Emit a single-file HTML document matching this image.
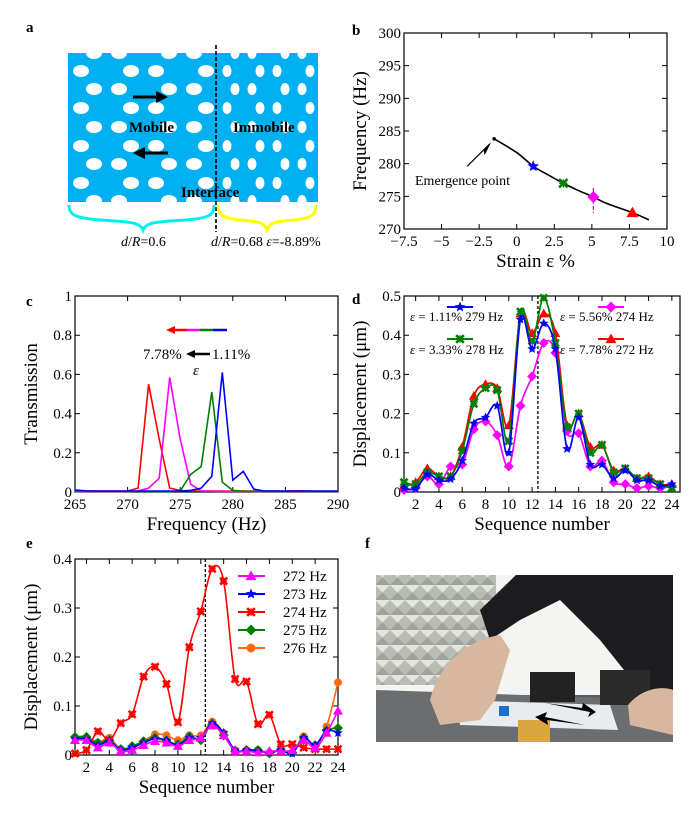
<!DOCTYPE html>
<html><head><meta charset="utf-8"><style>
body{margin:0;background:#fff;}
svg{display:block;font-family:"Liberation Serif",serif;}
</style></head><body>
<svg width="700" height="835" viewBox="0 0 700 835" id="fig">
<defs>
<pattern id="tiles" width="15" height="15" patternUnits="userSpaceOnUse"><rect width="15" height="15" fill="#b9bcb4"/><path d="M0 0L7.5 7.5L15 0Z" fill="#e4e5e0"/><path d="M0 15L7.5 7.5L15 15Z" fill="#9fa39b"/></pattern>
</defs>
<g font-family="Liberation Serif, serif" font-weight="bold" font-size="15">
<text x="26" y="32">a</text>
<text x="352" y="35">b</text>
<text x="26" y="306">c</text>
<text x="352" y="304">d</text>
<text x="26" y="548">e</text>
<text x="365" y="548">f</text>
</g>
<g id="pa"></g>
<g id="pb"></g>
<g id="pc"></g>
<g id="pd"></g>
<g id="pe"></g>
<g id="pf">
<rect x="376" y="575" width="297" height="167" fill="#f4f4f2"/>
<rect x="376" y="575" width="120" height="110" fill="url(#tiles)"/>
<path d="M516 575L673 575L673 700L640 690L600 640L560 600L520 620L490 640L480 610Z" fill="#1c1c1e"/>
<rect x="376" y="695" width="297" height="47" fill="#5a5c5e"/>
<path d="M376 690L673 700L673 742L376 742Z" fill="#6b6d70"/>
<path d="M455 700L610 705L618 730L460 725Z" fill="#e8ecee"/>
<rect x="530" y="672" width="45" height="30" fill="#222"/>
<rect x="600" y="670" width="50" height="35" fill="#2a2a2a"/>
<path d="M430 700C440 660 470 640 500 635L510 650L495 700L480 720L440 725Z" fill="#d8b7a0"/>
<path d="M628 705C640 690 660 685 673 690L673 735L630 725Z" fill="#d8b7a0"/>
<rect x="518" y="720" width="32" height="22" fill="#d9a640"/>
<rect x="499" y="706" width="10" height="10" fill="#1e6fd0"/>
<path d="M545 703L590 712L588 717L596 712L583 703L582 708Z" fill="#000"/>
<path d="M585 725L545 717L547 712L535 717L548 725L547 720Z" fill="#000"/>
</g>
</svg>
<script>
// ===== DATA =====
// panel b
const bCurveX=[-1.5,0,1.1,2,3.1,4,5.1,6,7.7,8.8];
const bCurveY=[283.8,281.7,279.6,278.4,277,276,274.9,273.9,272.5,271.4];
const bMarkX=[1.1,3.1,5.1,7.7];
const bMarkY=[279.6,277,274.9,272.5];
const bXTicks=[-7.5,-5,-2.5,0,2.5,5,7.5,10];
const bXTickLabels=["\u22127.5","\u22125","\u22122.5","0","2.5","5","7.5","10"];
const bYTicks=[270,275,280,285,290,295,300];
// panel c
const cFreq=[265,266,267,268,269,270,271,272,273,274,275,276,277,278,279,280,281,282,283,284,285,286,287,288,289,290];
const cRed=[0.005,0.005,0.005,0.005,0.005,0.005,0.02,0.55,0.27,0.02,0.008,0.005,0.005,0.005,0.005,0.005,0.005,0.005,0.005,0.005,0.005,0.006,0.005,0.004,0.004,0.004];
const cMag=[0.002,0.002,0.002,0.002,0.002,0.003,0.005,0.02,0.07,0.585,0.27,0.04,0.005,0.004,0.003,0.003,0.003,0.003,0.003,0.003,0.003,0.003,0.003,0.003,0.003,0.003];
const cGreen=[0.003,0.003,0.003,0.003,0.003,0.003,0.003,0.003,0.003,0.003,0.005,0.09,0.13,0.51,0.05,0.008,0.004,0.003,0.003,0.003,0.003,0.003,0.003,0.003,0.003,0.003];
const cBlue=[0.01,0.006,0.005,0.005,0.005,0.005,0.005,0.005,0.005,0.005,0.005,0.008,0.02,0.08,0.61,0.06,0.105,0.015,0.005,0.005,0.005,0.005,0.005,0.005,0.005,0.005];
const cXTicks=[265,270,275,280,285,290];
const cYTicks=[0,0.2,0.4,0.6,0.8,1];
const cYTickLabels=["0","0.2","0.4","0.6","0.8","1"];
// panel d
const seq=[1,2,3,4,5,6,7,8,9,10,11,12,13,14,15,16,17,18,19,20,21,22,23,24];
const dBlue=[0.01,0.008,0.045,0.03,0.033,0.08,0.175,0.19,0.22,0.1,0.44,0.365,0.43,0.365,0.11,0.19,0.07,0.07,0.035,0.055,0.03,0.03,0.015,0.02];
const dGreen=[0.025,0.02,0.05,0.04,0.04,0.105,0.225,0.265,0.26,0.13,0.46,0.385,0.495,0.38,0.165,0.2,0.1,0.12,0.05,0.06,0.035,0.035,0.02,0.01];
const dRed=[0.015,0.025,0.06,0.04,0.04,0.115,0.245,0.275,0.265,0.17,0.455,0.405,0.455,0.405,0.17,0.2,0.115,0.12,0.055,0.06,0.035,0.04,0.02,0.02];
const dMag=[0.005,0.01,0.04,0.02,0.065,0.07,0.16,0.18,0.145,0.065,0.22,0.295,0.38,0.355,0.155,0.15,0.065,0.08,0.025,0.02,0.01,0.015,0.01,0.015];
const seqTicks=[2,4,6,8,10,12,14,16,18,20,22,24];
const dYTicks=[0,0.1,0.2,0.3,0.4,0.5];
const dYTickLabels=["0","0.1","0.2","0.3","0.4","0.5"];
// panel e
const e272=[0.03,0.03,0.015,0.025,0.008,0.01,0.02,0.028,0.025,0.018,0.03,0.035,0.06,0.04,0.008,0.008,0.005,0.008,0.008,0.01,0.03,0.015,0.045,0.09];
const e273=[0.033,0.033,0.02,0.028,0.01,0.015,0.025,0.033,0.03,0.02,0.035,0.035,0.065,0.045,0.01,0.01,0.008,0.005,0.01,0.003,0.035,0.02,0.05,0.045];
const e274=[0.003,0.01,0.048,0.03,0.065,0.083,0.16,0.18,0.145,0.067,0.22,0.293,0.38,0.355,0.155,0.15,0.063,0.082,0.022,0.022,0.015,0.012,0.012,0.012];
const e275=[0.037,0.037,0.025,0.03,0.012,0.018,0.028,0.035,0.03,0.022,0.038,0.03,0.063,0.04,0.008,0.01,0.01,0.003,0.01,0.005,0.035,0.02,0.05,0.055];
const e276=[0.035,0.035,0.025,0.035,0.012,0.015,0.028,0.042,0.04,0.03,0.04,0.04,0.068,0.045,0.01,0.01,0.01,0.005,0.01,0.005,0.038,0.02,0.058,0.148];
const eYTicks=[0,0.1,0.2,0.3,0.4];
const eYTickLabels=["0","0.1","0.2","0.3","0.4"];

const NS="http://www.w3.org/2000/svg";
function mk(parent,tag,attrs,text){const e=document.createElementNS(NS,tag);for(const k in attrs)e.setAttribute(k,attrs[k]);if(text!==undefined)e.textContent=text;parent.appendChild(e);return e;}
function lin(d0,d1,r0,r1){return v=>r0+(v-d0)*(r1-r0)/(d1-d0);}
function spline(pts){let d="M"+pts[0][0]+" "+pts[0][1];for(let i=0;i<pts.length-1;i++){const p0=pts[Math.max(0,i-1)],p1=pts[i],p2=pts[i+1],p3=pts[Math.min(pts.length-1,i+2)];const c1=[p1[0]+(p2[0]-p0[0])/6,p1[1]+(p2[1]-p0[1])/6],c2=[p2[0]-(p3[0]-p1[0])/6,p2[1]-(p3[1]-p1[1])/6];d+=` C${c1[0]} ${c1[1]} ${c2[0]} ${c2[1]} ${p2[0]} ${p2[1]}`;}return d;}
function marker(g,type,x,y,col,s){
  let el;
  if(type==="star"){let p=[];for(let i=0;i<10;i++){const r=i%2?s*0.45:s;const a=-Math.PI/2+i*Math.PI/5;p.push((x+r*Math.cos(a)).toFixed(1)+","+(y+r*Math.sin(a)).toFixed(1));}el=mk(g,"polygon",{points:p.join(" "),fill:col});}
  else if(type==="x"){const q=s*0.7;el=mk(g,"g",{});mk(el,"path",{d:`M${x-q} ${y-q}L${x+q} ${y+q}M${x-q} ${y+q}L${x+q} ${y-q}`,stroke:col,"stroke-width":2.6});mk(el,"path",{d:`M${x-q} ${y}L${x+q} ${y}M${x} ${y-q}L${x} ${y+q}`,stroke:col,"stroke-width":1.2});}
  else if(type==="tri"){el=mk(g,"polygon",{points:`${x},${y-s} ${x+s},${y+s*0.75} ${x-s},${y+s*0.75}`,fill:col});}
  else if(type==="dia"){el=mk(g,"polygon",{points:`${x},${y-s} ${x+s},${y} ${x},${y+s} ${x-s},${y}`,fill:col});}
  else if(type==="circ"){el=mk(g,"circle",{cx:x,cy:y,r:s*0.8,fill:col});}
  return el;
}
function axes(g,L,R,T,B,sx,sy,xt,xl,yt,yl,xTitle,yTitle,name){
  const fr=mk(g,"rect",{x:L,y:T,width:R-L,height:B-T,fill:"none",stroke:"#000","stroke-width":1.2});
  
  
  xt.forEach((v,i)=>{const x=sx(v);mk(g,"path",{d:`M${x} ${B}v-5M${x} ${T}v5`,stroke:"#000","stroke-width":1});
    const t=mk(g,"text",{x:x,y:B+17,"text-anchor":"middle","font-size":15},xl?xl[i]:String(v));
    
    });
  yt.forEach((v,i)=>{const y=sy(v);mk(g,"path",{d:`M${L} ${y}h5M${R} ${y}h-5`,stroke:"#000","stroke-width":1});
    const t=mk(g,"text",{x:L-3,y:y+5,"text-anchor":"end","font-size":15},yl?yl[i]:String(v));
    
    });
  const xtEl=mk(g,"text",{x:(L+R)/2,y:B+38,"text-anchor":"middle","font-size":19},xTitle);
  
  
  const ytEl=mk(g,"text",{transform:`translate(${L-38},${(T+B)/2}) rotate(-90)`,"text-anchor":"middle","font-size":19},yTitle);
  
  
}

// ===== PANEL A =====
(function(){
  const g=document.getElementById("pa");
  mk(g,"rect",{x:68,y:53,width:250,height:149,fill:"#00b0f0"});
  const rows=[53,71,89,108,127,146,164,183,201];
  const leftA=[81,131,156,206],leftB=[94,119,169,194];
  const rightA=[227,260,277,310],rightB=[235,252,285,302];
  const hg=mk(g,"g",{fill:"#fff"});
  rows.forEach((y,i)=>{
    const odd=i%2===1;
    (odd?leftA:leftB).forEach(x=>mk(hg,"ellipse",{cx:x,cy:y,rx:8,ry:6}));
    (odd?rightA:rightB).forEach(x=>mk(hg,"ellipse",{cx:x,cy:y,rx:4.5,ry:6}));
  });
  mk(g,"rect",{x:66,y:44,width:254,height:9,fill:"#fff"});
  mk(g,"rect",{x:66,y:202,width:254,height:8,fill:"#fff"});
  mk(g,"path",{d:"M216 45V232",stroke:"#000","stroke-width":1.6,"stroke-dasharray":"4,2"});
  mk(g,"path",{d:"M133 97H158",stroke:"#000","stroke-width":3});
  mk(g,"polygon",{points:"156,91 168,97 156,103",fill:"#000"});
  mk(g,"path",{d:"M144 153H168",stroke:"#000","stroke-width":3});
  mk(g,"polygon",{points:"145,147 133,153 145,159",fill:"#000"});
  const tf={"font-weight":"bold","font-size":15};
  mk(g,"text",Object.assign({x:129,y:132},tf),"Mobile");
  mk(g,"text",Object.assign({x:233,y:132},tf),"Immobile");
  mk(g,"text",Object.assign({x:181,y:197},tf),"Interface");
  mk(g,"path",{d:"M69 205C69 215 75 218 100 220C130 222 140 222 143 230C146 222 156 222 186 220C210 218 214 215 214 205",fill:"none",stroke:"#00f0f0","stroke-width":3});
  mk(g,"path",{d:"M218 205C218 215 222 218 240 220C260 222 264 222 267 230C270 222 274 222 294 220C312 218 316 215 316 205",fill:"none",stroke:"#ffff00","stroke-width":3});
  mk(g,"text",{x:121,y:246,"font-size":14},"").innerHTML='<tspan font-style="italic">d</tspan>/<tspan font-style="italic">R</tspan>=0.6';
  mk(g,"text",{x:211,y:246,"font-size":14},"").innerHTML='<tspan font-style="italic">d</tspan>/<tspan font-style="italic">R</tspan>=0.68 <tspan font-style="italic">ε</tspan>=-8.89%';
})();

// ===== PANEL B =====
(function(){
  const g=document.getElementById("pb");
  const L=404,R=667,T=33,B=229;
  const sx=lin(-7.5,10,L,R),sy=lin(270,300,B,T);
  axes(g,L,R,T,B,sx,sy,bXTicks,bXTickLabels,bYTicks,null,"Strain ε %","Frequency (Hz)","b");
  const c=mk(g,"path",{d:spline(bCurveX.map((x,i)=>[sx(x),sy(bCurveY[i])])),fill:"none",stroke:"#000","stroke-width":1.6});
  
  
  mk(g,"circle",{cx:sx(bCurveX[0]),cy:sy(bCurveY[0]),r:1.8,fill:"#000"});
  mk(g,"path",{d:`M${sx(bMarkX[2])} ${sy(276.3)}V${sy(272.4)}`,stroke:"#a020a0","stroke-width":1.2,"stroke-dasharray":"4,2,1,2"});
  const types=["star","x","dia","tri"],cols=["#0000ff","#008000","#ff00ff","#ff0000"];
  bMarkX.forEach((x,i)=>{const m=marker(g,types[i],sx(x),sy(bMarkY[i]),cols[i],6);
    
    });
  mk(g,"path",{d:`M${sx(-3.3)} ${sy(279.6)}L${sx(-1.8)} ${sy(283)}`,stroke:"#000","stroke-width":1.2});
  mk(g,"polygon",{points:`${sx(-1.7)},${sy(283.3)} ${sx(-1.95)-4},${sy(282.2)} ${sx(-2.2)+1},${sy(281.9)+4}`,fill:"#000"});
  const a=mk(g,"text",{x:415,y:185,"font-size":14},"Emergence point");
  
  
})();

// ===== PANEL C =====
(function(){
  const g=document.getElementById("pc");
  const L=75,R=338,T=296,B=492;
  const sx=lin(265,290,L,R),sy=lin(0,1,B,T);
  axes(g,L,R,T,B,sx,sy,cXTicks,null,cYTicks,cYTickLabels,"Frequency (Hz)","Transmission","c");
  [[cRed,"#ff0000"],[cMag,"#ff00ff"],[cGreen,"#008000"],[cBlue,"#0000ff"]].forEach(([arr,col])=>{
    const p=mk(g,"path",{d:"M"+cFreq.map((f,i)=>sx(f).toFixed(1)+" "+sy(arr[i]).toFixed(1)).join("L"),fill:"none",stroke:col,"stroke-width":1.6});
    
    
  });
  mk(g,"path",{d:"M172 330H187",stroke:"#ff0000","stroke-width":2.5});
  mk(g,"polygon",{points:"166,330 175,326 175,334",fill:"#ff0000"});
  mk(g,"path",{d:"M187 330H200",stroke:"#ff00ff","stroke-width":2.5});
  mk(g,"path",{d:"M200 330H213",stroke:"#008000","stroke-width":2.5});
  mk(g,"path",{d:"M213 330H227",stroke:"#0000ff","stroke-width":2.5});
  mk(g,"text",{x:143,y:359,"font-size":15},"7.78%");
  mk(g,"path",{d:"M193 354H210",stroke:"#000","stroke-width":2.5});
  mk(g,"polygon",{points:"186,354 195,350 195,358",fill:"#000"});
  mk(g,"text",{x:212,y:359,"font-size":15},"1.11%");
  mk(g,"text",{x:193,y:375,"font-size":15,"font-style":"italic"},"ε");
})();

// ===== PANEL D =====
(function(){
  const g=document.getElementById("pd");
  const L=404,R=680,T=296,B=492;
  const sx=lin(1,24.7,L,R),sy=lin(0,0.5,B,T);
  axes(g,L,R,T,B,sx,sy,seqTicks,null,dYTicks,dYTickLabels,"Sequence number","Displacement (μm)","d");
  mk(g,"path",{d:`M${sx(12.5)} ${T}V${B}`,stroke:"#000","stroke-width":1.3,"stroke-dasharray":"3,2"});
  const series=[[dMag,"#ff00ff","dia"],[dRed,"#ff0000","tri"],[dGreen,"#008000","x"],[dBlue,"#0000ff","star"]];
  series.forEach(([arr,col,t])=>{
    const sg=mk(g,"g",{});
    
    
    mk(sg,"path",{d:spline(seq.map((s,i)=>[sx(s),sy(arr[i])])),fill:"none",stroke:col,"stroke-width":1.7});
    seq.forEach((s,i)=>marker(sg,t,sx(s),sy(arr[i]),col,5));
  });
  const legs=[[447,307,"#0000ff","star",410,321,"= 1.11% 279 Hz"],[447,339,"#008000","x",410,354,"= 3.33% 278 Hz"],[598,307,"#ff00ff","dia",560,321,"= 5.56% 274 Hz"],[598,339,"#ff0000","tri",560,354,"= 7.78% 272 Hz"]];
  legs.forEach(l=>{
    const lg=mk(g,"g",{});
    
    
    mk(lg,"path",{d:`M${l[0]} ${l[1]}h26`,stroke:l[2],"stroke-width":2});
    marker(lg,l[3],l[0]+13,l[1],l[2],5.5);
    mk(lg,"text",{x:l[4],y:l[5],"font-size":13},"").innerHTML='<tspan font-style="italic">ε</tspan> '+l[6];
  });
})();

// ===== PANEL E =====
(function(){
  const g=document.getElementById("pe");
  const L=75,R=338,T=559,B=755;
  const sx=lin(1,24,L,R),sy=lin(0,0.4,B,T);
  axes(g,L,R,T,B,sx,sy,seqTicks,null,eYTicks,eYTickLabels,"Sequence number","Displacement (μm)","e");
  mk(g,"path",{d:`M${sx(12.4)} ${T}V${B}`,stroke:"#000","stroke-width":1.3,"stroke-dasharray":"3,2"});
  const series=[[e276,"#ff6a10","circ","276 Hz"],[e275,"#008000","dia","275 Hz"],[e274,"#ff0000","x","274 Hz"],[e273,"#0000ff","star","273 Hz"],[e272,"#ff00ff","tri","272 Hz"]];
  series.forEach(([arr,col,t])=>{
    const sg=mk(g,"g",{});
    
    
    mk(sg,"path",{d:spline(seq.map((s,i)=>[sx(s),sy(arr[i])])),fill:"none",stroke:col,"stroke-width":1.6});
    seq.forEach((s,i)=>marker(sg,t,sx(s),sy(arr[i]),col,5));
  });
  const order=[4,3,2,1,0];
  order.forEach((k,j)=>{
    const s=series[k];const y=576+j*18;
    const lg=mk(g,"g",{});
    
    
    mk(lg,"path",{d:`M238 ${y}h27`,stroke:s[1],"stroke-width":2});
    marker(lg,s[2],251,y,s[1],5.5);
    mk(lg,"text",{x:283,y:y+5,"font-size":15},s[3]);
  });
})();
</script>
</body></html>
